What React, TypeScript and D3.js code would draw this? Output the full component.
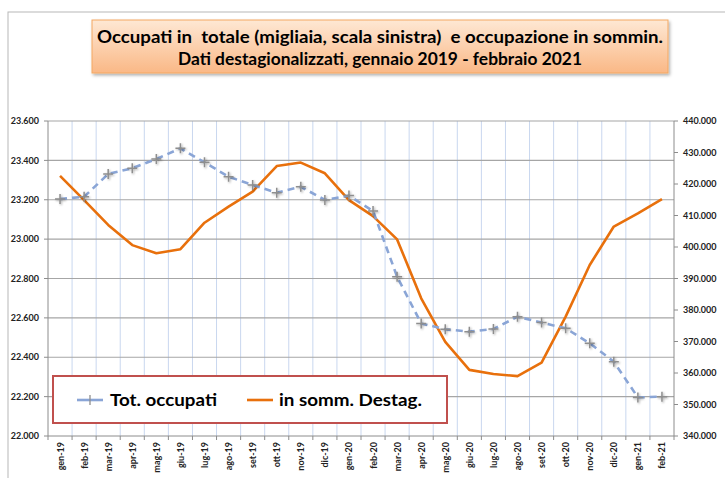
import React from 'react';
import * as d3 from 'd3';

const months = [
    "gen-19", "feb-19", "mar-19", "apr-19", "mag-19", "giu-19", "lug-19", "ago-19", "set-19", "ott-19", "nov-19", "dic-19",
    "gen-20", "feb-20", "mar-20", "apr-20", "mag-20", "giu-20", "lug-20", "ago-20", "set-20", "ott-20", "nov-20", "dic-20",
    "gen-21", "feb-21"
];

// Tot. occupati, migliaia (left axis)
const totOccupati = [
    23204, 23215, 23331, 23360, 23407, 23461, 23390, 23317, 23275, 23236, 23266, 23199,
    23221, 23143, 22809, 22572, 22542, 22530, 22543, 22606, 22576, 22547, 22471, 22377,
    22196, 22200
];

// in somm. Destag. (right axis)
const inSomm = [
    422600, 414900, 407000, 400600, 398000, 399300, 407700, 412800, 417600, 425700, 426800, 423400,
    414900, 409800, 402400, 383700, 369900, 361000, 359700, 359000, 363300, 377900, 394300, 406500,
    410700, 415200
];

const leftTicks = [22000, 22200, 22400, 22600, 22800, 23000, 23200, 23400, 23600];
const rightTicks = [340000, 350000, 360000, 370000, 380000, 390000, 400000, 410000, 420000, 430000, 440000];

const titleLines = [
    "Occupati in  totale (migliaia, scala sinistra)  e occupazione in sommin.",
    "Dati destagionalizzati, gennaio 2019 - febbraio 2021"
];

const W = 725, H = 478;
const margin = { top: 121, bottom: 42, left: 48, right: 51 };
const font = "Lato, 'Open Sans', sans-serif";
// italian style: dot as thousands separator
const fmtLeft = (v: number) => d3.format(".3f")(v / 1000);
const fmtRight = (v: number) => d3.format(",")(v).replace(/,/g, ".");

const App = () => {
    const x = d3.scaleBand().domain(months).range([margin.left, W - margin.right]).padding(0);
    const yL = d3.scaleLinear().domain([22000, 23600]).range([H - margin.bottom, margin.top]);
    const yR = d3.scaleLinear().domain([340000, 440000]).range([H - margin.bottom, margin.top]);
    const cx = (m: string) => (x(m) as number) + x.bandwidth() / 2;

    const blueLine = d3.line<number>().x((d, i) => cx(months[i])).y(d => yL(d))(totOccupati) || "";
    const orangeLine = d3.line<number>().x((d, i) => cx(months[i])).y(d => yR(d))(inSomm) || "";

    const x0 = margin.left, x1 = W - margin.right;
    const yb = H - margin.bottom;
    const edges = months.map(m => x(m) as number).concat([x1]);

    return (
        <svg width={W} height={H} style={{ position: "absolute", left: 0, top: 0, background: "#fff" }} fontFamily={font}>
            <defs>
                <linearGradient id="titleGrad" x1="0" y1="0" x2="0" y2="1">
                    <stop offset="0%" stopColor="#fee8d4" />
                    <stop offset="100%" stopColor="#fab886" />
                </linearGradient>
                <filter id="shadow" x="-10%" y="-20%" width="130%" height="160%">
                    <feDropShadow dx="1.5" dy="2" stdDeviation="1.5" floodColor="#000" floodOpacity="0.3" />
                </filter>
                <filter id="mshadow" x="-50%" y="-50%" width="200%" height="200%">
                    <feDropShadow dx="1" dy="1" stdDeviation="0.8" floodColor="#000" floodOpacity="0.35" />
                </filter>
            </defs>

            {/* chart frame */}
            <rect x={8} y={12} width={W + 20} height={H + 20} fill="none" stroke="#b8b8b8" strokeWidth={1} />

            {/* title */}
            <rect x={92} y={20} width={576} height={53} fill="url(#titleGrad)" stroke="#f4a862" strokeWidth={1} filter="url(#shadow)" />
            <text x={380} y={43} textAnchor="middle" fontWeight="bold" fontSize={16.5} fill="#000" style={{ whiteSpace: "pre" }} textLength={566} lengthAdjust="spacingAndGlyphs">{titleLines[0]}</text>
            <text x={380} y={65} textAnchor="middle" fontWeight="bold" fontSize={16.5} fill="#000" textLength={404} lengthAdjust="spacingAndGlyphs">{titleLines[1]}</text>

            {/* vertical gridlines */}
            <g>
                {edges.slice(1, -1).map((e, i) => (
                    <line key={i} x1={e} x2={e} y1={margin.top} y2={yb} stroke="#c9d7ef" strokeWidth={1} />
                ))}
            </g>
            {/* horizontal gridlines */}
            <g>
                {leftTicks.slice(1).map(t => (
                    <line key={t} x1={x0} x2={x1} y1={yL(t)} y2={yL(t)} stroke="#a6a6a6" strokeWidth={1.2} />
                ))}
            </g>

            {/* axes */}
            <line x1={x0} x2={x0} y1={margin.top} y2={yb} stroke="#8c8c8c" strokeWidth={1} />
            <line x1={x1} x2={x1} y1={margin.top} y2={yb} stroke="#8c8c8c" strokeWidth={1} />
            <line x1={x0} x2={x1} y1={yb} y2={yb} stroke="#8c8c8c" strokeWidth={1} />
            {leftTicks.map(t => (
                <g key={t}>
                    <line x1={x0 - 4} x2={x0} y1={yL(t)} y2={yL(t)} stroke="#8c8c8c" />
                    <text x={39} y={yL(t)} dy="0.35em" textAnchor="end" fontSize={9} fontWeight="bold" fill="#222">{fmtLeft(t)}</text>
                </g>
            ))}
            {rightTicks.map(t => (
                <g key={t}>
                    <line x1={x1} x2={x1 + 4} y1={yR(t)} y2={yR(t)} stroke="#8c8c8c" />
                    <text x={683} y={yR(t)} dy="0.35em" textAnchor="start" fontSize={9} fontWeight="bold" fill="#222">{fmtRight(t)}</text>
                </g>
            ))}
            {edges.map((e, i) => (
                <line key={i} x1={e} x2={e} y1={yb} y2={yb + 4} stroke="#8c8c8c" />
            ))}
            {months.map(m => (
                <text key={m} transform={`translate(${cx(m) + 3.5},${yb + 6}) rotate(-90)`} textAnchor="end" fontSize={9} fontWeight="bold" fill="#222">{m}</text>
            ))}

            {/* series */}
            <path d={orangeLine} fill="none" stroke="#e8700c" strokeWidth={2.6} strokeLinejoin="round" />
            <path d={blueLine} fill="none" stroke="#8aa5d6" strokeWidth={2.6} strokeDasharray="7,5" />
            <g filter="url(#mshadow)">
                {totOccupati.map((v, i) => (
                    <path key={i} d={`M${cx(months[i]) - 5},${yL(v)}h10M${cx(months[i])},${yL(v) - 5}v10`} stroke="#8e8e8e" strokeWidth={1.5} />
                ))}
            </g>

            {/* legend */}
            <rect x={53} y={376} width={394} height={47} fill="#fff" stroke="#c0504d" strokeWidth={2} />
            <line x1={77} x2={103} y1={400} y2={400} stroke="#8aa5d6" strokeWidth={2.6} />
            <path d="M90,395v10" stroke="#8e8e8e" strokeWidth={1.3} />
            <text x={110} y={400} dy="0.35em" fontSize={17} fontWeight="bold" fill="#000" textLength={107} lengthAdjust="spacingAndGlyphs">Tot. occupati</text>
            <line x1={247} x2={273} y1={400} y2={400} stroke="#e8700c" strokeWidth={2.6} />
            <text x={279} y={400} dy="0.35em" fontSize={17} fontWeight="bold" fill="#000" textLength={143} lengthAdjust="spacingAndGlyphs">in somm. Destag.</text>
        </svg>
    );
};

export default App;
